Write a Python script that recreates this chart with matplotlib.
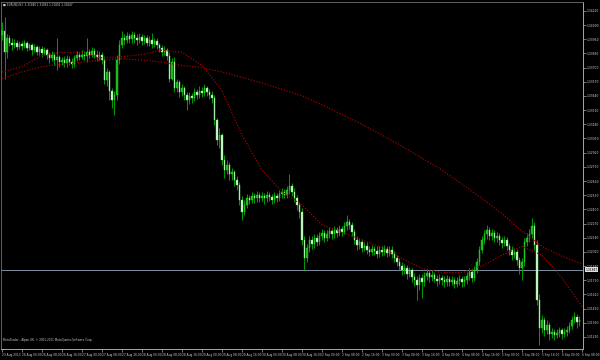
import matplotlib.pyplot as plt

# EURUSD H1, one bar per hour (open = previous close)
first_open = 1.3400
close = [1.3404, 1.3384, 1.3397, 1.3393, 1.3391, 1.3393, 1.3389, 1.3392, 1.3390, 1.3393,
         1.3388, 1.3391, 1.3386, 1.3389, 1.3384, 1.3387, 1.3383, 1.3386, 1.3382, 1.3379,
         1.3382, 1.3377, 1.3380, 1.3375, 1.3377, 1.3374, 1.3378, 1.3375, 1.3373, 1.3379,
         1.3382, 1.3380, 1.3382, 1.3381, 1.3384, 1.3382, 1.3385, 1.3382, 1.3380, 1.3382,
         1.3377, 1.3359, 1.3366, 1.3349, 1.3340, 1.3345, 1.3377, 1.3391, 1.3397, 1.3395,
         1.3399, 1.3396, 1.3400, 1.3397, 1.3395, 1.3398, 1.3394, 1.3397, 1.3393, 1.3395,
         1.3392, 1.3394, 1.3391, 1.3388, 1.3384, 1.3386, 1.3381, 1.3360, 1.3375, 1.3351,
         1.3357, 1.3348, 1.3351, 1.3345, 1.3340, 1.3344, 1.3342, 1.3348, 1.3345, 1.3349,
         1.3347, 1.3351, 1.3348, 1.3345, 1.3342, 1.3322, 1.3304, 1.3308, 1.3285, 1.3276,
         1.3281, 1.3272, 1.3274, 1.3267, 1.3262, 1.3249, 1.3238, 1.3244, 1.3250, 1.3249,
         1.3252, 1.3250, 1.3253, 1.3250, 1.3252, 1.3250, 1.3253, 1.3251, 1.3249, 1.3252,
         1.3250, 1.3254, 1.3256, 1.3253, 1.3258, 1.3261, 1.3256, 1.3250, 1.3244, 1.3238,
         1.3212, 1.3195, 1.3205, 1.3212, 1.3208, 1.3214, 1.3210, 1.3216, 1.3218, 1.3214,
         1.3217, 1.3220, 1.3217, 1.3221, 1.3218, 1.3222, 1.3219, 1.3225, 1.3228, 1.3226,
         1.3219, 1.3212, 1.3207, 1.3210, 1.3205, 1.3206, 1.3203, 1.3201, 1.3204, 1.3202,
         1.3199, 1.3203, 1.3201, 1.3204, 1.3200, 1.3203, 1.3199, 1.3195, 1.3192, 1.3188,
         1.3184, 1.3186, 1.3181, 1.3184, 1.3178, 1.3175, 1.3171, 1.3177, 1.3173, 1.3179,
         1.3182, 1.3178, 1.3180, 1.3176, 1.3174, 1.3177, 1.3175, 1.3173, 1.3176, 1.3173,
         1.3175, 1.3172, 1.3174, 1.3176, 1.3173, 1.3175, 1.3179, 1.3183, 1.3177, 1.3184,
         1.3192, 1.3203, 1.3212, 1.3217, 1.3221, 1.3216, 1.3218, 1.3214, 1.3216, 1.3212,
         1.3209, 1.3212, 1.3206, 1.3203, 1.3198, 1.3201, 1.3194, 1.3186, 1.3192, 1.3210,
         1.3214, 1.3217, 1.3225, 1.3207, 1.3157, 1.3131, 1.3139, 1.3129, 1.3134, 1.3126,
         1.3128, 1.3125, 1.3127, 1.3129, 1.3126, 1.3128, 1.3129, 1.3133, 1.3139, 1.3141,
         1.3137, 1.3139]
high = [1.3412, 1.3416, 1.3401, 1.3400, 1.3397, 1.3396, 1.3395, 1.3394, 1.3394, 1.3395,
        1.3394, 1.3393, 1.3393, 1.3392, 1.3391, 1.3390, 1.3390, 1.3389, 1.3388, 1.3384,
        1.3385, 1.3384, 1.3397, 1.3382, 1.3380, 1.3381, 1.3382, 1.3381, 1.3379, 1.3382,
        1.3385, 1.3384, 1.3386, 1.3385, 1.3397, 1.3387, 1.3389, 1.3388, 1.3386, 1.3385,
        1.3384, 1.3381, 1.3370, 1.3368, 1.3351, 1.3349, 1.3382, 1.3395, 1.3404, 1.3401,
        1.3403, 1.3402, 1.3404, 1.3403, 1.3401, 1.3402, 1.3401, 1.3400, 1.3400, 1.3399,
        1.3402, 1.3397, 1.3397, 1.3393, 1.3391, 1.3390, 1.3388, 1.3384, 1.3379, 1.3380,
        1.3360, 1.3359, 1.3355, 1.3353, 1.3348, 1.3348, 1.3347, 1.3351, 1.3350, 1.3353,
        1.3352, 1.3355, 1.3353, 1.3350, 1.3349, 1.3345, 1.3324, 1.3315, 1.3310, 1.3290,
        1.3285, 1.3283, 1.3278, 1.3276, 1.3271, 1.3265, 1.3252, 1.3249, 1.3254, 1.3253,
        1.3256, 1.3255, 1.3257, 1.3256, 1.3256, 1.3255, 1.3257, 1.3256, 1.3254, 1.3256,
        1.3255, 1.3258, 1.3260, 1.3259, 1.3261, 1.3272, 1.3264, 1.3260, 1.3253, 1.3247,
        1.3241, 1.3216, 1.3208, 1.3216, 1.3216, 1.3217, 1.3217, 1.3219, 1.3222, 1.3221,
        1.3221, 1.3224, 1.3223, 1.3225, 1.3224, 1.3226, 1.3225, 1.3228, 1.3235, 1.3231,
        1.3228, 1.3222, 1.3216, 1.3214, 1.3213, 1.3210, 1.3210, 1.3206, 1.3207, 1.3206,
        1.3206, 1.3206, 1.3206, 1.3207, 1.3206, 1.3206, 1.3206, 1.3202, 1.3198, 1.3195,
        1.3192, 1.3190, 1.3189, 1.3187, 1.3186, 1.3182, 1.3179, 1.3181, 1.3181, 1.3183,
        1.3185, 1.3184, 1.3184, 1.3183, 1.3180, 1.3181, 1.3180, 1.3179, 1.3180, 1.3179,
        1.3179, 1.3178, 1.3178, 1.3180, 1.3179, 1.3179, 1.3183, 1.3186, 1.3185, 1.3188,
        1.3195, 1.3206, 1.3216, 1.3221, 1.3226, 1.3224, 1.3222, 1.3221, 1.3219, 1.3218,
        1.3215, 1.3216, 1.3215, 1.3209, 1.3206, 1.3205, 1.3204, 1.3196, 1.3195, 1.3214,
        1.3218, 1.3222, 1.3232, 1.3228, 1.3212, 1.3162, 1.3143, 1.3141, 1.3139, 1.3137,
        1.3131, 1.3130, 1.3130, 1.3132, 1.3131, 1.3131, 1.3133, 1.3137, 1.3142, 1.3146,
        1.3144, 1.3142]
low = [1.3395, 1.3360, 1.3379, 1.3390, 1.3386, 1.3388, 1.3386, 1.3387, 1.3386, 1.3388,
       1.3385, 1.3386, 1.3382, 1.3384, 1.3382, 1.3382, 1.3380, 1.3382, 1.3378, 1.3374,
       1.3376, 1.3372, 1.3368, 1.3371, 1.3372, 1.3371, 1.3371, 1.3372, 1.3370, 1.3371,
       1.3376, 1.3377, 1.3378, 1.3377, 1.3375, 1.3379, 1.3380, 1.3379, 1.3376, 1.3377,
       1.3373, 1.3355, 1.3353, 1.3340, 1.3333, 1.3327, 1.3340, 1.3373, 1.3388, 1.3391,
       1.3393, 1.3393, 1.3393, 1.3393, 1.3391, 1.3393, 1.3391, 1.3392, 1.3390, 1.3390,
       1.3388, 1.3389, 1.3387, 1.3384, 1.3381, 1.3382, 1.3377, 1.3357, 1.3359, 1.3348,
       1.3348, 1.3343, 1.3344, 1.3340, 1.3331, 1.3337, 1.3338, 1.3339, 1.3341, 1.3342,
       1.3343, 1.3344, 1.3344, 1.3341, 1.3338, 1.3317, 1.3299, 1.3296, 1.3281, 1.3269,
       1.3272, 1.3267, 1.3267, 1.3261, 1.3258, 1.3244, 1.3230, 1.3235, 1.3241, 1.3245,
       1.3246, 1.3246, 1.3247, 1.3247, 1.3248, 1.3245, 1.3247, 1.3248, 1.3245, 1.3246,
       1.3247, 1.3248, 1.3250, 1.3250, 1.3250, 1.3254, 1.3252, 1.3247, 1.3239, 1.3232,
       1.3207, 1.3184, 1.3192, 1.3201, 1.3204, 1.3205, 1.3206, 1.3207, 1.3212, 1.3210,
       1.3211, 1.3214, 1.3213, 1.3214, 1.3215, 1.3216, 1.3216, 1.3217, 1.3221, 1.3222,
       1.3216, 1.3208, 1.3203, 1.3204, 1.3201, 1.3202, 1.3199, 1.3197, 1.3198, 1.3198,
       1.3195, 1.3196, 1.3197, 1.3198, 1.3196, 1.3197, 1.3195, 1.3192, 1.3188, 1.3184,
       1.3180, 1.3181, 1.3176, 1.3178, 1.3173, 1.3170, 1.3157, 1.3166, 1.3159, 1.3170,
       1.3175, 1.3173, 1.3174, 1.3173, 1.3170, 1.3172, 1.3171, 1.3169, 1.3170, 1.3170,
       1.3171, 1.3168, 1.3169, 1.3171, 1.3169, 1.3170, 1.3172, 1.3175, 1.3173, 1.3174,
       1.3182, 1.3189, 1.3200, 1.3208, 1.3213, 1.3212, 1.3212, 1.3210, 1.3210, 1.3207,
       1.3205, 1.3206, 1.3203, 1.3198, 1.3194, 1.3195, 1.3189, 1.3181, 1.3175, 1.3188,
       1.3206, 1.3210, 1.3214, 1.3203, 1.3152, 1.3116, 1.3127, 1.3124, 1.3126, 1.3120,
       1.3122, 1.3120, 1.3122, 1.3123, 1.3121, 1.3123, 1.3124, 1.3127, 1.3130, 1.3136,
       1.3131, 1.3133]

# moving averages read every 8 bars (dotted red lines)
ma_bars = list(range(0, 233, 8))
fast_ma = [1.3366, 1.3371, 1.3381, 1.3384, 1.3384, 1.3379, 1.3380, 1.3382, 1.3386, 1.3384,
           1.3372, 1.3349, 1.3308, 1.3276, 1.3256, 1.3244, 1.3226, 1.3219, 1.3212, 1.3205,
           1.3195, 1.3186, 1.3182, 1.3182, 1.3188, 1.3198, 1.3206, 1.3198, 1.3177, 1.3151]
slow_ma = [1.3360, 1.3366, 1.3371, 1.3373, 1.3375, 1.3377, 1.3378, 1.3377, 1.3375, 1.3372,
           1.3370, 1.3366, 1.3361, 1.3356, 1.3350, 1.3344, 1.3336, 1.3327, 1.3318, 1.3308,
           1.3298, 1.3287, 1.3276, 1.3263, 1.3250, 1.3236, 1.3220, 1.3206, 1.3197, 1.3190]

bid = 1.31847
price_ticks = [1.34220, 1.34090, 1.33960, 1.33830, 1.33700, 1.33570, 1.33440, 1.33310,
               1.33180, 1.33050, 1.32920, 1.32790, 1.32660, 1.32530, 1.32400, 1.32270,
               1.32140, 1.32010, 1.31880, 1.31750, 1.31620, 1.31490, 1.31360, 1.31230]
time_labels = ["23 Aug 2013", "26 Aug 00:00", "26 Aug 08:00", "26 Aug 16:00", "27 Aug 00:00",
               "27 Aug 08:00", "27 Aug 16:00", "28 Aug 00:00", "28 Aug 08:00", "28 Aug 16:00",
               "29 Aug 00:00", "29 Aug 08:00", "29 Aug 16:00", "30 Aug 00:00", "30 Aug 08:00",
               "30 Aug 16:00", "2 Sep 00:00", "2 Sep 08:00", "2 Sep 16:00", "3 Sep 00:00",
               "3 Sep 08:00", "3 Sep 16:00", "4 Sep 00:00", "4 Sep 08:00", "4 Sep 16:00",
               "5 Sep 00:00", "5 Sep 08:00", "5 Sep 16:00", "6 Sep 00:00", "6 Sep 08:00"]
header = "EURUSD,H1  1.31840 1.31862 1.31801 1.31847"
footer = "MetaTrader - Alpari UK, \u00a9 2001-2011 MetaQuotes Software Corp."

fig = plt.figure(figsize=(6, 3.6), dpi=100, facecolor='black')
ax = fig.add_axes([1/600, 11/360, 582/600, 347/360])
ax.set_facecolor('black')

opens = [first_open] + close[:-1]
bars = list(range(len(close)))

ax.vlines(bars, low, high, color='#00a800', lw=0.65, zorder=2)
for b, o, c in zip(bars, opens, close):
    h = c - o
    if abs(h) < 0.00004:
        h = 0.00004 if h >= 0 else -0.00004
    if c >= o:
        ax.bar(b, h, bottom=o, width=0.75, color='#14b814', edgecolor='#30d830',
               lw=0.3, zorder=3)
    else:
        ax.bar(b, h, bottom=o, width=0.75, color='#d4f8d4', edgecolor='#70e070',
               lw=0.3, zorder=3)

ax.plot(ma_bars, fast_ma, color='#a00000', lw=0.9, ls=(0, (1, 1.3)), zorder=4)
ax.plot(ma_bars, slow_ma, color='#a00000', lw=0.9, ls=(0, (1, 1.3)), zorder=4)

ax.axhline(bid, color='#8090a0', lw=0.7, zorder=1)

ax.set_xlim(-0.4, 232.4)
ax.set_ylim(1.311197, 1.343017)

for side in ['left', 'top']:
    ax.spines[side].set_color('#707070')
    ax.spines[side].set_linewidth(0.6)
for side in ['right', 'bottom']:
    ax.spines[side].set_color('#a8a8a8')
    ax.spines[side].set_linewidth(0.7)

ax.yaxis.tick_right()
ax.set_yticks(price_ticks)
ax.set_yticklabels(['%.5f' % p for p in price_ticks])
ax.tick_params(axis='y', colors='#a8a8a8', labelcolor='#d0d0d0', length=2, width=0.5,
               labelsize=2.2, pad=0.8)

ax.set_xticks(ma_bars[:len(time_labels)])
ax.set_xticklabels(time_labels)
ax.tick_params(axis='x', colors='#a8a8a8', labelcolor='#d0d0d0', length=2, width=0.5,
               labelsize=2.1, pad=0.8)
for lbl in ax.get_xticklabels():
    lbl.set_ha('left')

ax.text(1.004, bid, '%.5f' % bid, transform=ax.get_yaxis_transform(), ha='left',
        va='center', fontsize=2.2, color='black',
        bbox=dict(facecolor='#e0e0e0', edgecolor='none', pad=0.4))

fig.text(3/600, 1 - 5/360, '\u25a0', fontsize=2.2, color='#d0d0d0', va='center')
fig.text(7/600, 1 - 5/360, header, fontsize=2.0, color='#d0d0d0', va='center')
ax.text(2/582, 0.025, footer, transform=ax.transAxes, fontsize=2.0, color='#c8c8c8',
        va='center')

fig.savefig('out.png', dpi=100, facecolor='black')
